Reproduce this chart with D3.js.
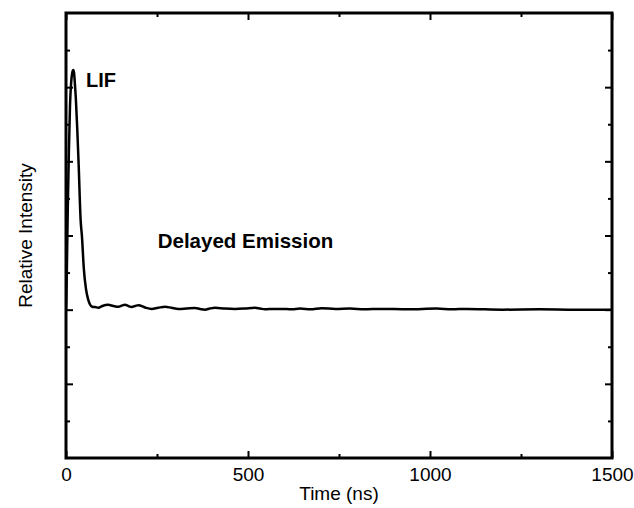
<!DOCTYPE html>
<html>
<head>
<meta charset="utf-8">
<script src="https://cdn.jsdelivr.net/npm/d3@7"></script>
<style>
  body { margin: 0; background: #fff; }
  text { font-family: "Liberation Sans", Arial, sans-serif; fill: #000; }
</style>
</head>
<body>
<div id="chart"></div>
<script>
var width = 634;
var height = 508;
var margin = { top: 13, right: 22, bottom: 50, left: 66 };

// time axis (ns) and relative intensity
var times = [0, 1, 3, 5, 8, 11, 14, 17, 20, 22, 24, 27, 31, 35, 40, 44, 49, 55, 61, 66,
  72, 80, 89, 100, 116, 130, 144, 153, 162, 171, 180, 190, 199, 217, 235, 253, 272, 290,
  309, 330, 354, 368, 382, 395, 409, 436, 464, 491, 519, 533, 547, 570, 592, 620, 643,
  672, 702, 740, 780, 820, 863, 940, 1018, 1060, 1101, 1200, 1300, 1400, 1500];
var intensity = [0, 0.3, 1.5, 2.8, 4.3, 5.5, 6.1, 6.38, 6.46, 6.4, 6.15, 5.7, 4.85, 3.85,
  2.45, 1.95, 1.1, 0.55, 0.27, 0.14, 0.08, 0.07, 0.05, 0.1, 0.13, 0.1, 0.08, 0.11, 0.13,
  0.1, 0.075, 0.1, 0.12, 0.06, 0.02, 0.05, 0.08, 0.05, 0.02, 0.03, 0.045, 0.02, 0, 0.03,
  0.05, 0.03, 0.02, 0.03, 0.05, 0.03, 0.01, 0.02, 0.02, 0.01, 0.03, 0.01, 0.04, 0.02,
  0.03, 0.01, 0.02, 0.01, 0.03, 0.01, 0.02, 0, 0.01, 0, 0];

var xTicksMajor = [0, 500, 1000, 1500];
var xTicksMinor = [250, 750, 1250];
var yTicksMajor = [-2, 0, 2, 4, 6];
var yTicksMinor = [-3, -1, 1, 3, 5, 7];

var w = width - margin.left - margin.right;
var h = height - margin.top - margin.bottom;

var svg = d3.select("#chart")
  .append("svg")
  .attr("width", width)
  .attr("height", height)
  .append("g")
  .attr("transform", "translate(" + margin.left + "," + margin.top + ")");

var x = d3.scaleLinear().domain([0, 1500]).range([0, w]);
var y = d3.scaleLinear().domain([-4, 8]).range([h, 0]);

svg.append("clipPath").attr("id", "clip")
  .append("rect").attr("width", w).attr("height", h);

// ticks pointing inward on all four sides
function tickAxis(axis, ticks, len) {
  return axis.tickValues(ticks).tickSizeInner(-len).tickSizeOuter(0).tickFormat("");
}

svg.append("g").attr("transform", "translate(0," + h + ")")
  .call(tickAxis(d3.axisBottom(x), xTicksMinor, 4));
var bottomMajor = svg.append("g").attr("transform", "translate(0," + h + ")")
  .call(d3.axisBottom(x).tickValues(xTicksMajor).tickSizeInner(-7).tickSizeOuter(0)
    .tickPadding(10).tickFormat(d3.format("d")));
svg.append("g").call(tickAxis(d3.axisTop(x), xTicksMinor, 4));
svg.append("g").call(tickAxis(d3.axisTop(x), xTicksMajor, 7));
svg.append("g").call(tickAxis(d3.axisLeft(y), yTicksMinor, 4));
svg.append("g").call(tickAxis(d3.axisLeft(y), yTicksMajor, 7));
svg.append("g").attr("transform", "translate(" + w + ",0)")
  .call(tickAxis(d3.axisRight(y), yTicksMinor, 4));
svg.append("g").attr("transform", "translate(" + w + ",0)")
  .call(tickAxis(d3.axisRight(y), yTicksMajor, 7));

svg.selectAll(".domain").remove();
svg.selectAll(".tick line").attr("stroke", "#000").attr("stroke-width", 2);
bottomMajor.selectAll(".tick text")
  .style("font-size", "19px")
  .style("font-family", "'Liberation Sans', Arial, sans-serif")
  .attr("fill", "#000");

// frame
svg.append("rect")
  .attr("width", w)
  .attr("height", h)
  .attr("fill", "none")
  .attr("stroke", "#000")
  .attr("stroke-width", 3);

var pts = times.map(function (t, i) { return [t, intensity[i]]; });

var line = d3.line()
  .x(function (d) { return x(d[0]); })
  .y(function (d) { return y(d[1]); })
  .curve(d3.curveMonotoneX);

svg.append("path")
  .datum(pts)
  .attr("clip-path", "url(#clip)")
  .attr("d", line)
  .attr("fill", "none")
  .attr("stroke", "#000")
  .attr("stroke-width", 2.5)
  .attr("stroke-linejoin", "round");

// annotations
svg.append("text")
  .attr("x", x(55))
  .attr("y", y(6.0))
  .style("font-size", "20px")
  .style("font-weight", "bold")
  .text("LIF");

svg.append("text")
  .attr("x", x(252))
  .attr("y", y(1.65))
  .style("font-size", "20.5px")
  .style("font-weight", "bold")
  .text("Delayed Emission");

// axis titles
svg.append("text")
  .attr("x", w / 2)
  .attr("y", h + 42)
  .attr("text-anchor", "middle")
  .style("font-size", "19px")
  .text("Time (ns)");

svg.append("text")
  .attr("transform", "translate(" + (-34) + "," + (y(2.0)) + ") rotate(-90)")
  .attr("text-anchor", "middle")
  .style("font-size", "19px")
  .text("Relative Intensity");
</script>
</body>
</html>
